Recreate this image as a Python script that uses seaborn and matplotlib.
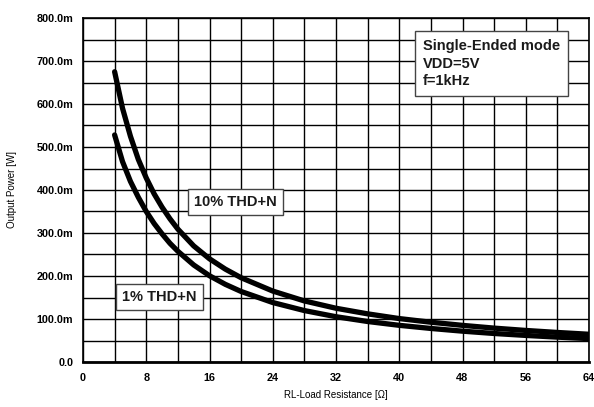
import matplotlib
matplotlib.use("Agg")
import matplotlib.pyplot as plt
import seaborn as sns
import pandas as pd
from matplotlib.ticker import MultipleLocator, FixedLocator

sns.set_theme(style="white")
plt.rcParams['font.family'] = ['Liberation Sans', 'DejaVu Sans']

resistance = [4, 5, 6, 7, 8, 9, 10, 11, 12, 14, 16, 18, 20, 24, 28, 32, 36, 40, 44, 48, 52, 56, 60, 64]
power_10 = [0.675, 0.590, 0.525, 0.471, 0.428, 0.391, 0.360, 0.333, 0.309, 0.270, 0.240, 0.216,
            0.196, 0.165, 0.142, 0.125, 0.112, 0.101, 0.0925, 0.0852, 0.0788, 0.0734, 0.0687, 0.0645]
power_1 = [0.528, 0.466, 0.420, 0.383, 0.350, 0.322, 0.298, 0.276, 0.2575, 0.2257, 0.2006, 0.1806,
           0.164, 0.1383, 0.1196, 0.1053, 0.0942, 0.0853, 0.078, 0.0717, 0.0663, 0.0618, 0.0578, 0.0544]
x_ticks = [0, 8, 16, 24, 32, 40, 48, 56, 64]
y_ticks = [0.0, 0.1, 0.2, 0.3, 0.4, 0.5, 0.6, 0.7, 0.8]
y_tick_labels = ["0.0", "100.0m", "200.0m", "300.0m", "400.0m", "500.0m", "600.0m", "700.0m", "800.0m"]

df = pd.DataFrame({
    "R": resistance * 2,
    "P": power_10 + power_1,
    "series": ["10% THD+N"] * len(resistance) + ["1% THD+N"] * len(resistance),
})

fig = plt.figure(figsize=(5.94, 4.07), dpi=100)
ax = fig.add_axes([83/594, 1 - 362/407, (589-83)/594, (362-18)/407])

sns.lineplot(data=df, x="R", y="P", hue="series", palette=["black", "black"],
             linewidth=3.8, legend=False, ax=ax, zorder=3)
for ln in ax.get_lines():
    ln.set_solid_joinstyle("round")
    ln.set_solid_capstyle("round")

ax.set_xlim(0, 64)
ax.set_ylim(0, 0.8)
ax.xaxis.set_major_locator(FixedLocator(x_ticks))
ax.xaxis.set_minor_locator(MultipleLocator(4))
ax.yaxis.set_major_locator(FixedLocator(y_ticks))
ax.yaxis.set_minor_locator(MultipleLocator(0.05))
ax.set_yticklabels(y_tick_labels)
ax.grid(True, which="both", color="black", linewidth=1.0, zorder=1)
ax.set_axisbelow(True)
for s in ax.spines.values():
    s.set_color("black")
    s.set_linewidth(1.2)
ax.spines["bottom"].set_linewidth(2)
ax.tick_params(axis="both", which="both", length=0, labelsize=7.8, colors="black")
ax.tick_params(axis="x", pad=8)
ax.tick_params(axis="y", pad=7)
for lab in ax.get_xticklabels() + ax.get_yticklabels():
    lab.set_fontweight("bold")

ax.set_xlabel("RL-Load Resistance [Ω]", fontsize=7, color="black", labelpad=5)
ax.set_ylabel("Output Power [W]", fontsize=7, color="black", labelpad=14)

box = dict(boxstyle="square,pad=0.42", facecolor="white", edgecolor="#444444", linewidth=1.0)
ax.text(19.3, 0.372, "10% THD+N", fontsize=10.5, fontweight="bold", ha="center", va="center",
        color="#1a1a1a", bbox=box, zorder=5)
ax.text(9.7, 0.151, "1% THD+N", fontsize=10.5, fontweight="bold", ha="center", va="center",
        color="#1a1a1a", bbox=box, zorder=5)
box2 = dict(boxstyle="square,pad=0.55", facecolor="white", edgecolor="#444444", linewidth=1.0)
ax.text(43.0, 0.694, "Single-Ended mode\nVDD=5V\nf=1kHz", fontsize=10.5, fontweight="bold",
        ha="left", va="center", multialignment="left", linespacing=1.35, color="#1a1a1a",
        bbox=box2, zorder=5)

fig.savefig("out.png", dpi=100)
